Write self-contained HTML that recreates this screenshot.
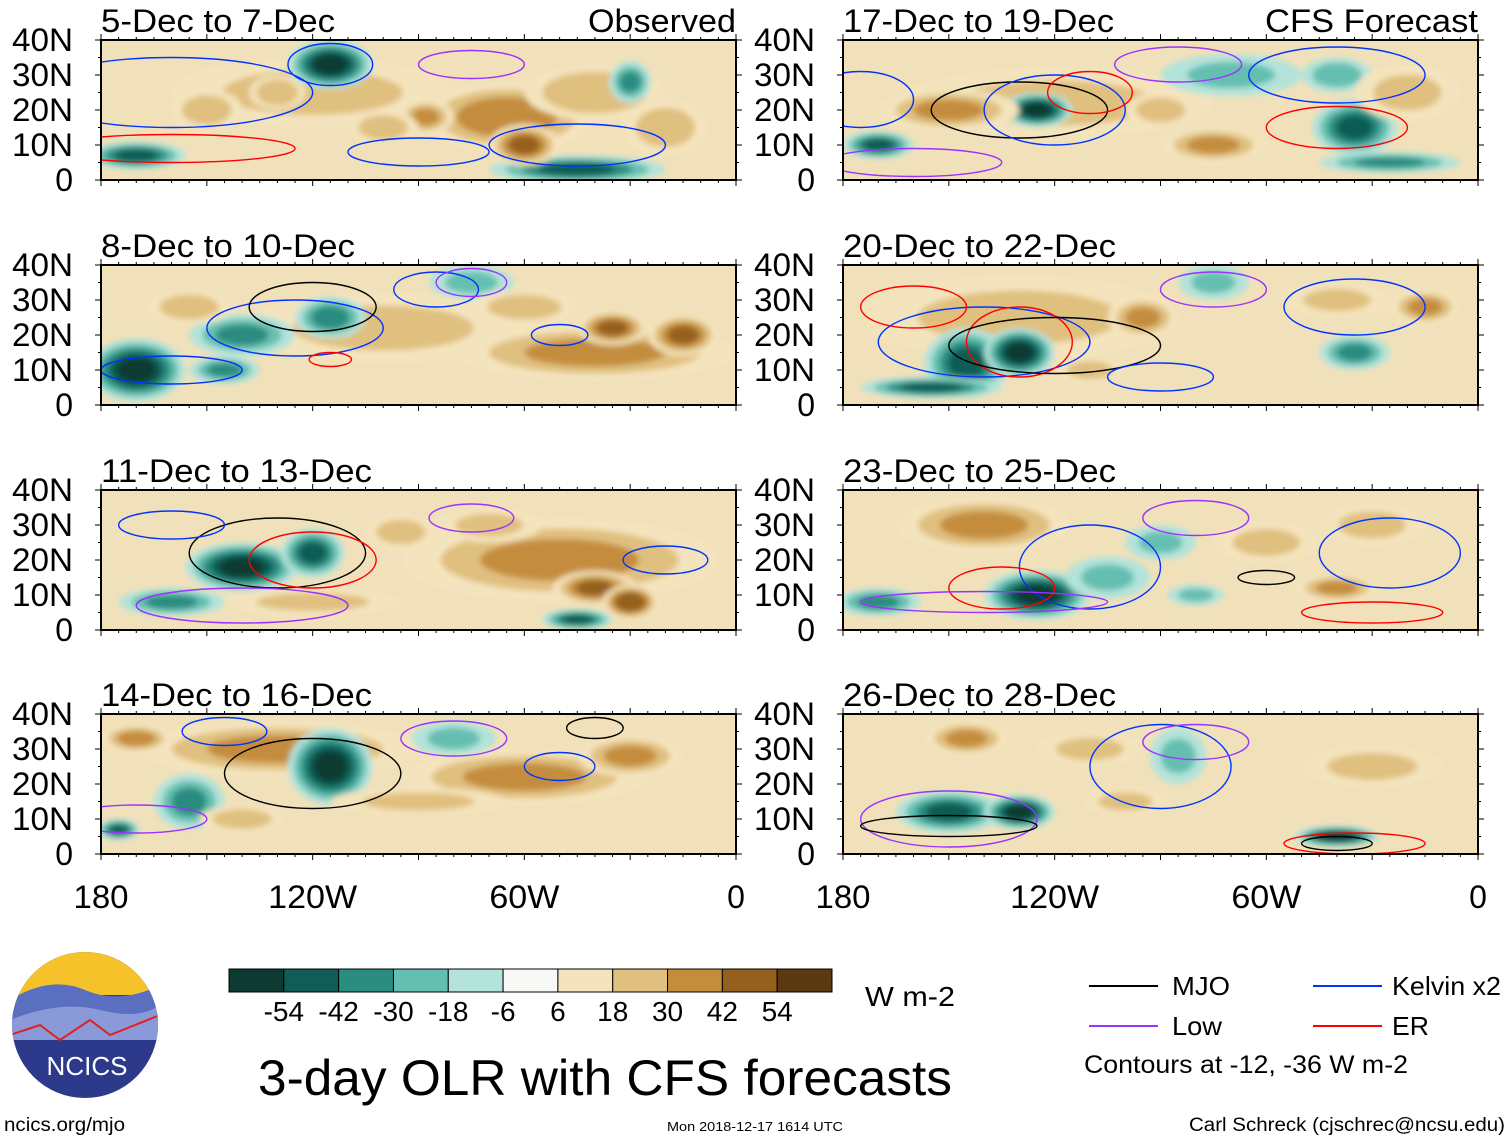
<!DOCTYPE html>
<html><head><meta charset="utf-8"><style>
body{margin:0;background:#fff;width:1510px;height:1141px;overflow:hidden;font-family:"Liberation Sans",sans-serif}
svg{position:absolute;left:0;top:0}
</style></head><body>
<svg id="s" width="1510" height="1141" xmlns="http://www.w3.org/2000/svg">
<defs><filter id="bl"><feGaussianBlur stdDeviation="3"/></filter>
<clipPath id="lc"><circle cx="85" cy="1025" r="73"/></clipPath></defs>
</svg>
<script>
const levels=[-54,-42,-30,-18,-6,6,18,30,42,54];
const colors=["#0d3b33","#0f5d55","#2b8c80","#65bfb1","#b3e3da","#f8f8f6","#f4e4bd","#e0c07f","#c48d3d","#94601d","#5b3912"];
const panelTitles=["5-Dec to 7-Dec","8-Dec to 10-Dec","11-Dec to 13-Dec","14-Dec to 16-Dec","17-Dec to 19-Dec","20-Dec to 22-Dec","23-Dec to 25-Dec","26-Dec to 28-Dec"];
const latTicks=["40N","30N","20N","10N","0"];
const lonTicks=["180","120W","60W","0"];
// blobs: [lon, lat, rxDeg, ryDeg, value]
const blobs=[
[[-120,25,40,10,25],[-65,18,25,10,42],[-40,25,20,8,35],[-130,25,8,5,35],[-115,33,12,7,-60],[-170,7,14,4,-48],[-45,3,25,4,-48],[-60,10,10,6,48],[-30,28,6,6,-36],[-88,18,8,5,36],[-150,20,10,6,30],[-100,15,10,5,30],[-20,15,12,8,30]],
[[-100,22,40,10,25],[-40,15,40,8,36],[-35,22,10,5,48],[-15,20,10,6,48],[-170,10,14,9,-60],[-140,20,15,6,-36],[-115,25,10,6,-40],[-75,35,12,5,-24],[-145,10,10,4,-36],[-60,28,15,5,30],[-155,28,12,5,30]],
[[-50,20,45,12,36],[-40,12,12,5,48],[-30,8,8,5,58],[-140,18,16,7,-60],[-120,22,9,7,-48],[-160,8,15,4,-36],[-120,8,25,4,25],[-95,28,10,5,30],[-45,3,10,3,-48],[-70,30,15,5,25]],
[[-130,30,40,8,36],[-170,33,10,4,40],[-115,25,12,11,-60],[-155,15,10,8,-36],[-175,7,6,3,-48],[-60,22,35,8,36],[-30,28,15,6,36],[-80,33,12,5,-24],[-90,15,25,4,25],[-140,10,12,4,30]],
[[-120,22,45,10,25],[-125,20,10,5,-60],[-150,20,20,6,36],[-35,15,12,8,-48],[-70,30,20,6,-24],[-40,30,10,5,-30],[-170,10,10,4,-48],[-75,10,15,5,36],[-20,25,15,8,25],[-25,5,20,3,-36],[-90,20,10,5,30]],
[[-130,25,45,12,25],[-145,12,12,10,-48],[-130,15,10,7,-60],[-95,25,10,6,36],[-75,35,10,5,-24],[-35,15,10,5,-36],[-155,5,20,3,-48],[-40,30,15,5,25],[-15,28,10,5,36],[-110,10,10,4,25]],
[[-140,30,25,8,36],[-125,10,15,7,-60],[-170,8,12,4,-36],[-90,25,10,5,-24],[-40,12,12,4,36],[-80,10,8,3,-24],[-30,30,15,6,25],[-105,15,12,6,-24],[-60,25,15,6,25]],
[[-145,33,12,5,36],[-150,12,15,6,-48],[-130,12,10,5,-60],[-85,28,8,8,-24],[-40,5,12,3,-60],[-30,25,20,6,25],[-110,30,15,5,25],[-100,15,12,4,25]]
];
// contours: [lon, lat, rxDeg, ryDeg, color]
const contours=[
[[-160,25,40,10,"#0033ff"],[-115,33,12,6,"#0033ff"],[-75,33,15,4,"#9933ff"],[-160,9,35,4,"#ff0000"],[-90,8,20,4,"#0033ff"],[-45,10,25,6,"#0033ff"]],
[[-125,22,25,8,"#0033ff"],[-120,28,18,7,"#000000"],[-85,33,12,5,"#0033ff"],[-75,35,10,4,"#9933ff"],[-50,20,8,3,"#0033ff"],[-160,10,20,4,"#0033ff"],[-115,13,6,2,"#ff0000"]],
[[-130,22,25,10,"#000000"],[-120,20,18,8,"#ff0000"],[-160,30,15,4,"#0033ff"],[-75,32,12,4,"#9933ff"],[-140,7,30,5,"#9933ff"],[-20,20,12,4,"#0033ff"]],
[[-120,23,25,10,"#000000"],[-145,35,12,4,"#0033ff"],[-80,33,15,5,"#9933ff"],[-50,25,10,4,"#0033ff"],[-170,10,20,4,"#9933ff"],[-40,36,8,3,"#000000"]],
[[-130,20,25,8,"#000000"],[-175,23,15,8,"#0033ff"],[-120,20,20,10,"#0033ff"],[-110,25,12,6,"#ff0000"],[-40,15,20,6,"#ff0000"],[-40,30,25,8,"#0033ff"],[-85,33,18,5,"#9933ff"],[-160,5,25,4,"#9933ff"]],
[[-140,18,30,10,"#0033ff"],[-130,18,15,10,"#ff0000"],[-120,17,30,8,"#000000"],[-75,33,15,5,"#9933ff"],[-35,28,20,8,"#0033ff"],[-160,28,15,6,"#ff0000"],[-90,8,15,4,"#0033ff"]],
[[-110,18,20,12,"#0033ff"],[-135,12,15,6,"#ff0000"],[-140,8,35,3,"#9933ff"],[-60,15,8,2,"#000000"],[-80,32,15,5,"#9933ff"],[-25,22,20,10,"#0033ff"],[-30,5,20,3,"#ff0000"]],
[[-150,10,25,8,"#9933ff"],[-90,25,20,12,"#0033ff"],[-80,32,15,5,"#9933ff"],[-150,8,25,3,"#000000"],[-35,3,20,3,"#ff0000"],[-40,3,10,2,"#000000"]]
];
const s=document.getElementById('s');const NS="http://www.w3.org/2000/svg";
function mk(t,a,p){const e=document.createElementNS(NS,t);for(const k in a)e.setAttribute(k,a[k]);(p||s).appendChild(e);return e;}
function col(v){let i=0;while(i<levels.length&&v>levels[i])i++;return colors[i];}
const W=635,H=140,lefts=[101,843],tops=[40,265,490,714];
const titleLens=[234,254,271,271,271,273,273,273];
const lonLens={"180":55,"120W":89,"60W":70};
panelTitles.forEach((t,pi)=>{
 const x0=lefts[Math.floor(pi/4)],y0=tops[pi%4];
 const xs=lon=>x0+(lon+180)/180*W, ys=lat=>y0+(40-lat)/40*H;
 const g=mk('g',{});
 
 
 const cid='c'+pi;const cp=mk('clipPath',{id:cid});mk('rect',{x:x0,y:y0,width:W,height:H},cp);
 const inner=mk('g',{'clip-path':'url(#'+cid+')'},g);
 mk('rect',{x:x0,y:y0,width:W,height:H,fill:'#f1e1ba'},inner);
 const bg=mk('g',{filter:'url(#bl)'},inner);
 blobs[pi].forEach(b=>{
  const sign=b[4]<0?-1:1;const mag=Math.abs(b[4]);
  for(let v=sign*12;Math.abs(v)<=mag;v+=sign*12){const f=1-0.75*(Math.abs(v)-12)/mag;
   const e=mk('ellipse',{cx:xs(b[0]),cy:ys(b[1]),rx:b[2]/180*W*f,ry:b[3]/40*H*f,fill:col(v)},bg);
   }
 });
 contours[pi].forEach(c=>{const e=mk('ellipse',{cx:xs(c[0]),cy:ys(c[1]),rx:c[2]/180*W,ry:c[3]/40*H,fill:'none',stroke:c[4],'stroke-width':1.4},inner);
  });
 mk('rect',{x:x0,y:y0,width:W,height:H,fill:'none',stroke:'#000','stroke-width':2},g);
 for(let l=-180;l<=0;l+=5){const len=l%30==0?6:3;mk('line',{x1:xs(l),x2:xs(l),y1:y0,y2:y0-len,stroke:'#000'},g);mk('line',{x1:xs(l),x2:xs(l),y1:y0+H,y2:y0+H+len,stroke:'#000'},g);}
 for(let la=0;la<=40;la+=5){const len=la%10==0?6:3;mk('line',{x1:x0,x2:x0-len,y1:ys(la),y2:ys(la),stroke:'#000'},g);mk('line',{x1:x0+W,x2:x0+W+len,y1:ys(la),y2:ys(la),stroke:'#000'},g);}
 const tt=mk('text',{x:x0,y:y0-8,'font-size':32,textLength:titleLens[pi],lengthAdjust:'spacingAndGlyphs'},g);tt.textContent=t;
 
 if(pi%4==0){const r=mk('text',{x:x0+W,y:y0-8,'font-size':32,'text-anchor':'end'},g);r.textContent=pi==0?'Observed':'CFS Forecast';
  
  r.setAttribute('textLength',pi==0?148:213);r.setAttribute('lengthAdjust','spacingAndGlyphs');}
 latTicks.forEach((l,i)=>{const e=mk('text',{x:x0-28,y:ys(40-i*10)+11,'font-size':32,'text-anchor':'end'},g);e.textContent=l;
  
  if(l!=='0'){e.setAttribute('textLength',61);e.setAttribute('lengthAdjust','spacingAndGlyphs');}});
 if(pi%4==3)lonTicks.forEach((l,i)=>{const e=mk('text',{x:xs(-180+i*60),y:y0+H+54,'font-size':32,'text-anchor':'middle'},g);e.textContent=l;
  
  if(lonLens[l]){e.setAttribute('textLength',lonLens[l]);e.setAttribute('lengthAdjust','spacingAndGlyphs');}});
});
// colorbar
const cb=mk('g',{});
const bw=603/colors.length;
colors.forEach((c,i)=>mk('rect',{x:229+i*bw,y:969,width:bw,height:23,fill:c,stroke:'#000','stroke-width':1},cb));
levels.forEach((v,i)=>{const e=mk('text',{x:229+(i+1)*bw,y:1021,'font-size':28,'text-anchor':'middle'},cb);e.textContent=v;
 });
function txt(x,y,sz,t,name,anchor,len){const e=mk('text',{x:x,y:y,'font-size':sz,'text-anchor':anchor||'start'});e.textContent=t;
 if(len){e.setAttribute('textLength',len);e.setAttribute('lengthAdjust','spacingAndGlyphs');}return e;}
txt(865,1006,28,'W m-2','colorbar-units','start',90);
txt(258,1095,50,'3-day OLR with CFS forecasts','chart-title','start',694);
[[1089,986,'#000','MJO',1172,58],[1313,986,'#0033ff','Kelvin x2',1392,109],[1089,1026,'#9933ff','Low',1172,50],[1313,1026,'#ff0000','ER',1392,37]].forEach(l=>{
 const ln=mk('line',{x1:l[0],x2:l[0]+69,y1:l[1],y2:l[1],stroke:l[2],'stroke-width':2});
 txt(l[4],l[1]+9,26,l[3],'legend-entry','start',l[5]);});
txt(1084,1073,25,'Contours at -12, -36 W m-2','contour-note','start',324);
txt(4,1131,19,'ncics.org/mjo','source-url','start',121);
txt(755,1131,13,'Mon 2018-12-17 1614 UTC','timestamp','middle',176);
txt(1505,1131,19,'Carl Schreck (cjschrec@ncsu.edu)','author','end',316);
// logo
const lg=mk('g',{'clip-path':'url(#lc)'});
mk('rect',{x:10,y:950,width:150,height:150,fill:'#2d3a8c'},lg);
mk('rect',{x:10,y:950,width:150,height:45,fill:'#f5c22a'},lg);
mk('path',{d:'M10 1000 Q50 975 85 990 T160 985 L160 1020 L10 1020Z',fill:'#5a6fc0'},lg);
mk('path',{d:'M10 1020 Q60 1000 100 1010 T160 1005 L160 1040 L10 1040Z',fill:'#8a9ad8'},lg);
mk('path',{d:'M10 1035 L40 1025 L60 1040 L90 1020 L110 1035 L160 1015',fill:'none',stroke:'#e02020','stroke-width':2},lg);
txt(87,1075,26,'NCICS','logo-text','middle').setAttribute('fill','#fff');
</script>
</body></html>
